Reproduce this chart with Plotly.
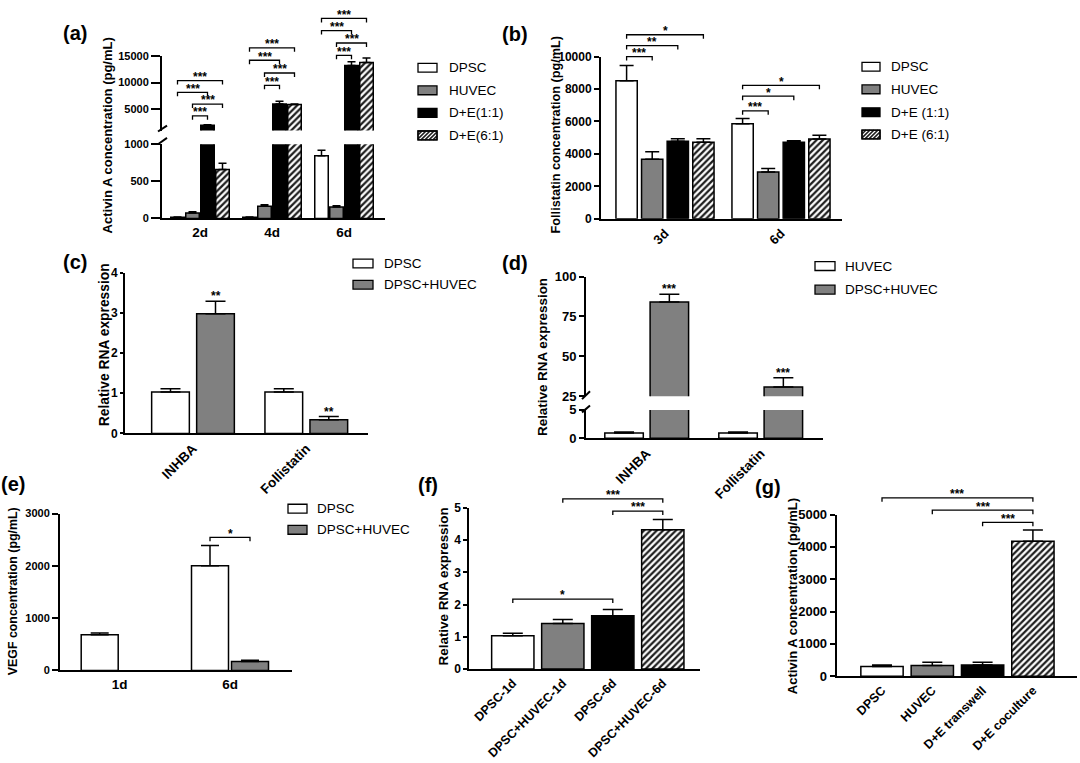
import plotly.graph_objects as go

W, H = 1080, 763
FONT = "Liberation Sans, Arial, sans-serif"

# ---------------- data ----------------
# (a) Activin A ELISA (segmented axis)
a_days = ["2d", "4d", "6d"]
a_series = ["DPSC", "HUVEC", "D+E(1:1)", "D+E(6:1)"]
a_dpsc = [15, 15, 845]
a_dpsc_err = [4, 4, 75]
a_huvec = [75, 165, 155]
a_huvec_err = [17, 20, 15]
a_de11 = [2000, 6000, 13200]
a_de11_err = [100, 500, 700]
a_de61 = [660, 5900, 13800]
a_de61_err = [85, 100, 850]
a_y_low_ticks = [0, 500, 1000]
a_y_high_ticks = [5000, 10000, 15000]
a_sig = [  # (day index, bar i, bar j, label)
    (0, 0, 3, "***"), (0, 0, 2, "***"), (0, 1, 3, "***"), (0, 1, 2, "***"),
    (1, 0, 3, "***"), (1, 0, 2, "***"), (1, 1, 3, "***"), (1, 1, 2, "***"),
    (2, 0, 3, "***"), (2, 0, 2, "***"), (2, 1, 3, "***"), (2, 1, 2, "***"),
]

# (b) Follistatin ELISA
b_days = ["3d", "6d"]
b_series = ["DPSC", "HUVEC", "D+E (1:1)", "D+E (6:1)"]
b_dpsc = [8500, 5860]
b_dpsc_err = [950, 320]
b_huvec = [3670, 2880]
b_huvec_err = [460, 220]
b_de11 = [4770, 4710]
b_de11_err = [160, 100]
b_de61 = [4710, 4910]
b_de61_err = [220, 240]
b_y_ticks = [0, 2000, 4000, 6000, 8000, 10000]
b_sig = [(0, 0, 1, "***"), (0, 0, 2, "**"), (0, 0, 3, "*"),
         (1, 0, 1, "***"), (1, 0, 2, "*"), (1, 0, 3, "*")]

# (c) RNA in DPSC
c_genes = ["INHBA", "Follistatin"]
c_series = ["DPSC", "DPSC+HUVEC"]
c_dpsc = [1.03, 1.03]
c_dpsc_err = [0.08, 0.08]
c_co = [2.98, 0.34]
c_co_err = [0.31, 0.08]
c_sig = ["**", "**"]
c_y_ticks = [0, 1, 2, 3, 4]

# (d) RNA in HUVEC (segmented axis)
d_genes = ["INHBA", "Follistatin"]
d_series = ["HUVEC", "DPSC+HUVEC"]
d_huvec = [0.95, 0.95]
d_huvec_err = [0.15, 0.15]
d_co = [84, 30.7]
d_co_err = [5, 5.8]
d_sig = ["***", "***"]
d_y_low_ticks = [0, 5]
d_y_high_ticks = [25, 50, 75, 100]

# (e) VEGF ELISA
e_days = ["1d", "6d"]
e_series = ["DPSC", "DPSC+HUVEC"]
e_dpsc = [680, 2000]
e_dpsc_err = [35, 390]
e_co = [None, 170]
e_co_err = [0, 25]
e_y_ticks = [0, 1000, 2000, 3000]
e_sig = [(1, 0, 1, "*")]

# (f) RNA time course
f_groups = ["DPSC-1d", "DPSC+HUVEC-1d", "DPSC-6d", "DPSC+HUVEC-6d"]
f_vals = [1.03, 1.41, 1.65, 4.32]
f_err = [0.08, 0.13, 0.20, 0.32]
f_y_ticks = [0, 1, 2, 3, 4, 5]
f_sig = [(1, 3, "***"), (2, 3, "***"), (0, 2, "*")]

# (g) Activin A transwell vs coculture
g_groups = ["DPSC", "HUVEC", "D+E transwell", "D+E coculture"]
g_vals = [300, 330, 350, 4170]
g_err = [50, 100, 80, 350]
g_y_ticks = [0, 1000, 2000, 3000, 4000, 5000]
g_sig = [(0, 3, "***"), (1, 3, "***"), (2, 3, "***")]

# ---------------- styles ----------------
WHITE = dict(color="white")
GRAY = dict(color="#808080")
BLACK = dict(color="black")
HATCH = dict(color="#1e1e1e", pattern="/")
STY4 = [WHITE, GRAY, BLACK, HATCH]
PAT = dict(fillmode="replace", bgcolor="white", fgcolor="#1e1e1e", fgopacity=1,
           size=4.5, solidity=0.5)


def px(x):
    return x / W


def py(y):
    return 1 - y / H


def ax_id(n):
    return "" if n == 1 else str(n)


fig = go.Figure()
axes = {}
shapes = []
annos = []


def tf(size):
    return dict(family=FONT, size=size, color="black", weight="bold")


def make_axes(n, xpx, origin, ypx, yrange, ytickvals, xticktext, tickangle=0,
              show_x=True, ysize=11, xsize=13, ticklen=5):
    p0, ppu = origin
    xr = [(xpx[0] - p0) / ppu, (xpx[1] - p0) / ppu]
    xa = dict(domain=[px(xpx[0]), px(xpx[1])], range=xr, anchor="y" + ax_id(n),
              showline=show_x, visible=show_x, linecolor="black", linewidth=2,
              ticks="", showgrid=False, zeroline=False,
              tickvals=list(range(len(xticktext))), ticktext=xticktext,
              tickangle=tickangle, tickfont=tf(xsize))
    ya = dict(domain=[py(ypx[0]), py(ypx[1])], range=yrange, anchor="x" + ax_id(n),
              showline=True, linecolor="black", linewidth=2, ticks="outside",
              ticklen=ticklen, tickwidth=1.5, tickcolor="black", showgrid=False,
              zeroline=False, tickvals=ytickvals, tickformat="d", tickfont=tf(ysize))
    axes["xaxis" + ax_id(n)] = xa
    axes["yaxis" + ax_id(n)] = ya


def add_bar(n, y, err, center, width, style, cap, lo=None):
    k = len(y)
    if lo is not None:  # segment above an axis break: hide bars that end below it
        y = [v if (v is not None and v > lo) else None for v in y]
    marker = dict(color=style["color"], line=dict(color="black", width=1.5))
    if style.get("pattern"):
        marker["pattern"] = dict(shape=style["pattern"], **PAT)
    fig.add_trace(go.Bar(
        x=list(range(k)), y=y, width=width, offset=center - width / 2,
        xaxis="x" + ax_id(n), yaxis="y" + ax_id(n), marker=marker,
        error_y=dict(type="data", array=err, arrayminus=[0] * k, symmetric=False,
                     color="black", thickness=1.5, width=cap),
        showlegend=False, hoverinfo="skip"))


def bracket(n, x0, x1, ypix, label, drop=4):
    shapes.append(dict(type="path", xref="x" + ax_id(n), yref="paper",
                       path=f"M{x0},{py(ypix + drop)} L{x0},{py(ypix)} L{x1},{py(ypix)} L{x1},{py(ypix + drop)}",
                       line=dict(color="black", width=1.3)))
    annos.append(dict(x=(x0 + x1) / 2, y=py(ypix), xref="x" + ax_id(n), yref="paper",
                      text=label, showarrow=False, xanchor="center", yanchor="bottom",
                      font=tf(12), borderpad=0, yshift=-4.3))


def star(n, x, y, label):
    annos.append(dict(x=x, y=y, xref="x" + ax_id(n), yref="y" + ax_id(n), text=label,
                      showarrow=False, xanchor="center", yanchor="bottom",
                      font=tf(12), borderpad=0, yshift=-3))


def text(xp, yp, s, size, bold=False, angle=0, xanchor="center"):
    annos.append(dict(x=px(xp), y=py(yp), xref="paper", yref="paper", text=s,
                      showarrow=False, textangle=angle, xanchor=xanchor, yanchor="middle",
                      font=dict(family=FONT, size=size, color="black",
                                weight="bold" if bold else "normal")))


def legend(labels, styles, bx0, bx1, rows, tx, bh=9):
    for lab, st, ry in zip(labels, styles, rows):
        y0, y1 = ry - bh / 2, ry + bh / 2
        fill = "white" if st.get("pattern") else st["color"]
        shapes.append(dict(type="rect", xref="paper", yref="paper",
                           x0=px(bx0), x1=px(bx1), y0=py(y1), y1=py(y0),
                           fillcolor=fill, line=dict(color="black", width=1.3)))
        if st.get("pattern"):
            segs = []
            h = bh
            k = -h
            while k < bx1 - bx0:
                t0 = max(0, -k)
                t1 = min(h, (bx1 - bx0) - k)
                if t1 > t0:
                    xa, ya_ = bx0 + k + t0, y1 - t0
                    xb, yb = bx0 + k + t1, y1 - t1
                    segs.append(f"M{px(xa)},{py(ya_)} L{px(xb)},{py(yb)}")
                k += 4
            shapes.append(dict(type="path", xref="paper", yref="paper", path=" ".join(segs),
                               line=dict(color="#1e1e1e", width=1.6)))
            shapes.append(dict(type="rect", xref="paper", yref="paper",
                               x0=px(bx0), x1=px(bx1), y0=py(y1), y1=py(y0),
                               line=dict(color="black", width=1.3)))
        text(tx, ry, lab, 13.5, xanchor="left")


def slash(x0, y0, x1, y1):
    shapes.append(dict(type="line", xref="paper", yref="paper", x0=px(x0), y0=py(y0),
                       x1=px(x1), y1=py(y1), line=dict(color="black", width=2)))


def single_trace(n, vals, errs, width):
    fig.add_trace(go.Bar(
        x=list(range(len(vals))), y=vals, width=width, offset=-width / 2,
        xaxis="x" + ax_id(n), yaxis="y" + ax_id(n),
        marker=dict(color=[s["color"] for s in STY4], line=dict(color="black", width=1.5),
                    pattern=dict(shape=[s.get("pattern", "") for s in STY4], **PAT)),
        error_y=dict(type="data", array=errs, arrayminus=[0] * len(vals), symmetric=False,
                     color="black", thickness=1.5, width=10),
        showlegend=False, hoverinfo="skip"))


# ---------------- panel (a) ----------------
a_origin = (200, 72)
a_slot, a_w = 15 / 72, 13.5 / 72
make_axes(1, (162, 385), a_origin, (215.7, 140), [0, 1000], a_y_low_ticks, a_days,
          ysize=11, xsize=13.5, ticklen=9)
make_axes(2, (162, 385), a_origin, (126, 50), [1000, 15000], a_y_high_ticks, a_days,
          show_x=False, ysize=11, ticklen=9)
for n, lo in ((1, None), (2, 1000)):
    for i, (vals, errs) in enumerate([(a_dpsc, a_dpsc_err), (a_huvec, a_huvec_err),
                                      (a_de11, a_de11_err), (a_de61, a_de61_err)]):
        add_bar(n, vals, errs, (i - 1.5) * a_slot, a_w, STY4[i], 4, lo)
a_bracket_y = [75, 87, 99, 111, 41.7, 54.3, 67.3, 80, 11.7, 24, 36.7, 49.3]
for (g, i, j, lab), yy in zip(a_sig, a_bracket_y):
    bracket(1, g + (i - 1.5) * a_slot, g + (j - 1.5) * a_slot, yy, lab)
slash(158, 127, 167, 121)
slash(158, 140, 167, 133.5)
text(75, 27, "(a)", 20, bold=True)
text(107, 131, "Activin A concentration (pg/mL)", 13, bold=True, angle=-90)
legend(a_series, STY4, 418, 437, [62, 85, 108, 131], 447)

# ---------------- panel (b) ----------------
b_origin = (665, 116)
b_slot, b_w = 25.6 / 116, 21.3 / 116
make_axes(3, (601, 842), b_origin, (216, 50.5), [0, 10000], b_y_ticks, b_days,
          tickangle=-45, ysize=12, xsize=13, ticklen=5)
for i, (vals, errs) in enumerate([(b_dpsc, b_dpsc_err), (b_huvec, b_huvec_err),
                                  (b_de11, b_de11_err), (b_de61, b_de61_err)]):
    add_bar(3, vals, errs, (i - 1.5) * b_slot, b_w, STY4[i], 7)
b_bracket_y = [50.7, 39.3, 28.3, 106, 91, 80]
for (g, i, j, lab), yy in zip(b_sig, b_bracket_y):
    bracket(3, g + (i - 1.5) * b_slot, g + (j - 1.5) * b_slot, yy, lab)
text(514.5, 28, "(b)", 20, bold=True)
text(556, 131, "Follistatin concentration (pg/mL)", 12.7, bold=True, angle=-90)
legend(b_series, STY4, 862, 880, [61, 84, 107.3, 130], 889)

# ---------------- panel (c) ----------------
c_origin = (193, 113.3)
c_slot, c_w = 45 / 113.3, 37.7 / 113.3
make_axes(4, (125, 368), c_origin, (435, 271), [0, 4], c_y_ticks, c_genes,
          tickangle=-45, ysize=12, xsize=13.5, ticklen=3)
add_bar(4, c_dpsc, c_dpsc_err, -0.5 * c_slot, c_w, WHITE, 10)
add_bar(4, c_co, c_co_err, 0.5 * c_slot, c_w, GRAY, 10)
for g, lab in enumerate(c_sig):
    star(4, g + 0.5 * c_slot, c_co[g] + c_co_err[g], lab)
text(75, 260, "(c)", 20, bold=True)
text(104, 345, "Relative RNA expression", 13.8, bold=True, angle=-90)
legend(c_series, [WHITE, GRAY], 353, 373, [261.7, 283.3], 382)

# ---------------- panel (d) ----------------
d_origin = (646.7, 114)
d_slot, d_w = 45.3 / 114, 38.5 / 114
make_axes(5, (586, 822.7), d_origin, (440, 411), [0, 5], d_y_low_ticks, d_genes,
          tickangle=-45, ysize=13, xsize=13.5, ticklen=5)
make_axes(6, (586, 822.7), d_origin, (397, 275), [25, 100], d_y_high_ticks, d_genes,
          show_x=False, ysize=13, ticklen=5)
for n, lo in ((5, None), (6, 25)):
    add_bar(n, d_huvec, d_huvec_err, -0.5 * d_slot, d_w, WHITE, 10, lo)
    add_bar(n, d_co, d_co_err, 0.5 * d_slot, d_w, GRAY, 10, lo)
for g, lab in enumerate(d_sig):
    star(6, g + 0.5 * d_slot, d_co[g] + d_co_err[g], lab)
slash(582, 400, 590, 392)
slash(582, 413.5, 590, 406.5)
text(514.5, 261, "(d)", 20, bold=True)
text(543, 357, "Relative RNA expression", 13.4, bold=True, angle=-90)
legend(d_series, [WHITE, GRAY], 815, 835, [264.3, 288.3], 843)

# ---------------- panel (e) ----------------
e_origin = (119.7, 110.3)
e_slot, e_w = 40 / 110.3, 37 / 110.3
make_axes(7, (60, 291.7), e_origin, (676.7, 516.7), [0, 3000], e_y_ticks, e_days,
          ysize=11, xsize=13.5, ticklen=6)
add_bar(7, e_dpsc, e_dpsc_err, -0.5 * e_slot, e_w, WHITE, 9)
add_bar(7, e_co, e_co_err, 0.5 * e_slot, e_w, GRAY, 9)
for g, i, j, lab in e_sig:
    bracket(7, g + (i - 0.5) * e_slot, g + (j - 0.5) * e_slot, 541, lab)
text(13, 487, "(e)", 20, bold=True)
text(13, 596, "VEGF concentration (pg/mL)", 12.4, bold=True, angle=-90)
legend(e_series, [WHITE, GRAY], 288, 307, [511.7, 533.3], 315)

# ---------------- panel (f) ----------------
f_origin = (512.8, 50)
f_w = 42.3 / 50
make_axes(8, (469.3, 700), f_origin, (675.3, 511), [0, 5], f_y_ticks, f_groups,
          tickangle=-45, ysize=12, xsize=12.5, ticklen=4)
single_trace(8, f_vals, f_err, f_w)
for (i, j, lab), yy in zip(f_sig, [501.7, 514.3, 604]):
    bracket(8, i, j, yy, lab)
text(428, 488, "(f)", 20, bold=True)
text(443, 591, "Relative RNA expression", 13.4, bold=True, angle=-90)

# ---------------- panel (g) ----------------
g_origin = (882, 50.3)
g_w = 42.3 / 50.3
make_axes(9, (836.7, 1076.7), g_origin, (682.7, 517.7), [0, 5000], g_y_ticks, g_groups,
          tickangle=-45, ysize=13, xsize=12.5, ticklen=5)
single_trace(9, g_vals, g_err, g_w)
for (i, j, lab), yy in zip(g_sig, [500.7, 513.3, 525.7]):
    bracket(9, i, j, yy, lab)
text(768, 490, "(g)", 20, bold=True)
text(792, 601, "Activin A concentration (pg/mL)", 13, bold=True, angle=-90)

fig.update_layout(
    width=W, height=H, margin=dict(l=0, r=0, t=0, b=0),
    paper_bgcolor="white", plot_bgcolor="rgba(0,0,0,0)",
    barmode="overlay", showlegend=False,
    font=dict(family=FONT, color="black"),
    shapes=shapes, annotations=annos, **axes)

fig.write_html("out.html")
